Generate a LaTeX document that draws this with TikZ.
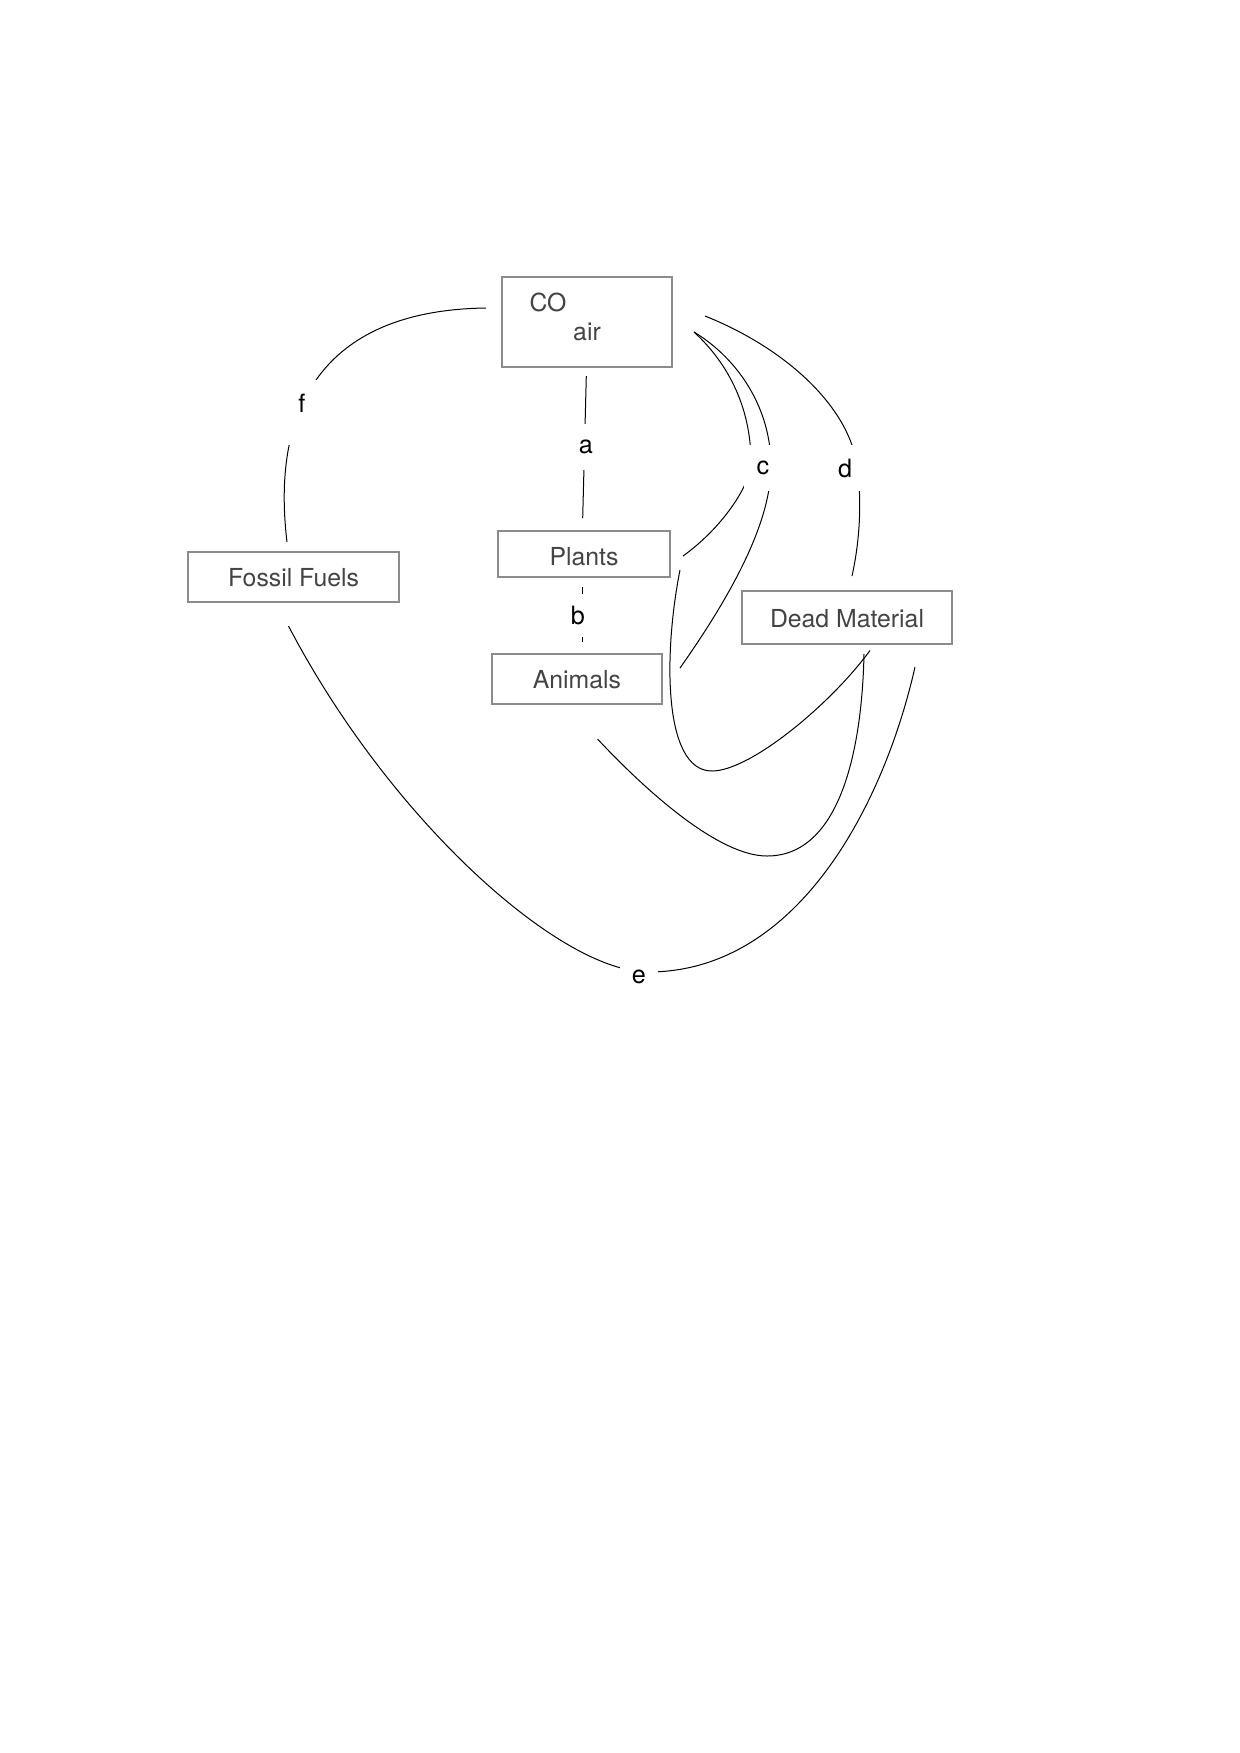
\documentclass[tikz,border=0pt]{standalone}
\usepackage{fontspec}
\setmainfont{TeX Gyre Heros}
\usetikzlibrary{calc}
\definecolor{boxgray}{RGB}{140,140,140}
\definecolor{txtgray}{RGB}{68,68,68}
\tikzset{
  box/.style={draw=boxgray, line width=1pt, fill=white, inner sep=0pt, text=txtgray, text height=9.9pt, text depth=0pt, font=\fontsize{12.4}{15}\selectfont},
  boxtext/.style={inner sep=0pt, text=txtgray, font=\fontsize{12.4}{15}\selectfont},
  lbl/.style={fill=white, inner sep=0pt, minimum width=19pt, minimum height=23pt, text=black, font=\fontsize{12.6}{15}\selectfont},
  conn/.style={line width=0.5pt, black},
}
\begin{document}
\begin{tikzpicture}[x=0.5pt,y=-0.5pt]
\useasboundingbox (0,0) rectangle (1240,1753);
% boxes
\node[box, minimum width=85pt, minimum height=45pt] (co2) at (587,322) {};
\node[boxtext] (co2a) at (548,302) {CO};
\node[boxtext] (co2b) at (587,332) {air};
\node[box, minimum width=86pt, minimum height=23pt, text height=11.6pt] (plants) at (584,554) {Plants};
\node[box, minimum width=85pt, minimum height=25pt] (animals) at (577,679) {Animals};
\node[box, minimum width=105pt, minimum height=26.5pt] (dead) at (847,617.5) {Dead Material};
\node[box, minimum width=105.5pt, minimum height=25pt] (fossil) at (293.5,577) {Fossil Fuels};
% connectors
\draw[conn] ($(co2.west)+(-15,-14)$) .. controls (330,310) and (270,400) .. ($(fossil.north)+(-6.5,-9)$);
\draw[conn] ($(co2.south)+(-0.7,8)$) -- ($(plants.north)+(-1.3,-12)$);
\draw[conn] ($(plants.south)+(-2,9)$) -- ($(animals.north)+(5,-11)$);
\draw[conn] ($(co2.east)+(21,10)$) .. controls (730,365) and (751,410) .. (751,462) .. controls (751,485) and (722,528) .. ($(plants.east)+(12,2)$);
\draw[conn] ($(co2.east)+(21,10)$) .. controls (740,360) and (771,410) .. (771,466) .. controls (771,520) and (735,590) .. ($(animals.east)+(17,-11)$);
\draw[conn] ($(co2.east)+(32,-6)$) .. controls (790,350) and (850,410) .. (857,466) .. controls (862,500) and (860,540) .. ($(dead.north)+(5,-14)$);
\draw[conn] ($(plants.east)+(9,16)$) .. controls (664,650) and (662,771) .. (712,771) .. controls (750,771) and (830,705) .. ($(dead.south)+(23,5.5)$);
\draw[conn] ($(animals.south)+(20.5,34)$) .. controls (650,795) and (720,856) .. (767,856) .. controls (840,856) and (862,750) .. ($(dead.south)+(17,9)$);
\draw[conn] ($(dead.south east)+(-38,22)$) .. controls (885,800) and (800,972) .. (648,972) .. controls (560,972) and (390,820) .. ($(fossil.south)+(-5,23)$);
% labels
\node[lbl, text height=16pt, text depth=16.5pt] (lf) at (302,412.5) {f};
\node[lbl] (la) at (586,447) {a};
\node[lbl, minimum height=21.5pt] (lb) at (578,615.5) {b};
\node[lbl] (lc) at (763,468) {c};
\node[lbl] (ld) at (845,468) {d};
\node[lbl] (le) at (639,976.5) {e};
\end{tikzpicture}
\end{document}
